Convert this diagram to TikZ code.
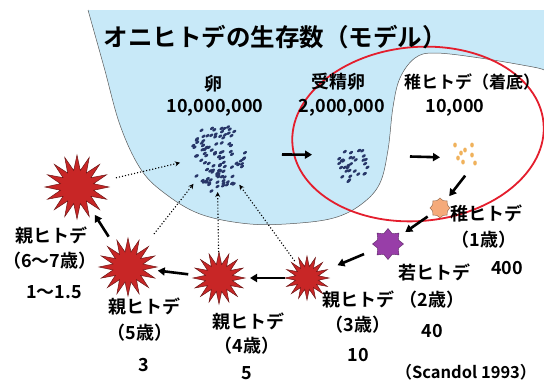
\documentclass[tikz,border=0pt]{standalone}
\usepackage{fontspec}
\setmainfont{Noto Sans CJK JP}[BoldFont={Noto Sans CJK JP Bold}]
\usetikzlibrary{positioning,shapes.geometric,arrows.meta}

\definecolor{sea}{RGB}{200,233,248}
\definecolor{ring}{RGB}{228,30,45}
\definecolor{crown}{RGB}{200,38,38}
\definecolor{young}{RGB}{152,62,168}
\definecolor{baby}{RGB}{245,170,122}
\definecolor{spawn}{RGB}{40,55,105}
\definecolor{larvae}{RGB}{240,178,92}

\tikzset{
	txt/.style={font=\bfseries\fontsize{18}{20}\selectfont, inner sep=0pt},
	adult/.style={star, star points=16, star point ratio=1.9, fill=crown, draw=crown!55!black, line width=0.5pt, inner sep=0pt},
	egg/.style={ellipse, fill=spawn, minimum width=4.6pt, minimum height=2.7pt, inner sep=0pt, rotate=35},
	go/.style={-{Triangle[length=7pt,width=8pt]}, line width=2.6pt},
	release/.style={-{Stealth[length=5pt,width=5pt]}, dotted, line width=1.1pt, shorten >=38pt},
}

\begin{document}
\begin{tikzpicture}[x=1pt,y=-1pt]
			\useasboundingbox (0,0) rectangle (544,383);
			\fill[white] (0,0) rectangle (544,383);

			\fill[sea] (544,70) -- (544,10) -- (88,10) -- plot[smooth, tension=0.6] coordinates {(88,10) (104,67) (120,125) (140,168) (163,192) (200,214) (250,224) (300,223) (337,217) (363,203) (380,183) (388,150) (393,107) (400,78) (415,58) (435,53) (480,58) (533,67) (544,70)} -- cycle;
			\draw[gray!70!black, line width=0.5pt] plot[smooth, tension=0.6] coordinates {(88,10) (104,67) (120,125) (140,168) (163,192) (200,214) (250,224) (300,223) (337,217) (363,203) (380,183) (388,150) (393,107) (400,78) (415,58) (435,53) (480,58) (533,67) (544,70)};

			\draw[ring, line width=1.8pt, rotate around={5:(418,134)}] (418,134) ellipse [x radius=126, y radius=87];

			\node[font=\bfseries\fontsize{24.5}{26}\selectfont, inner sep=0pt] (1) at (275,37) {オニヒトデの生存数（モデル）};

			\node[txt] (2) at (213,84) {卵};
			\node[txt] (3) at (215,108) {10,000,000};
			\node[txt] (4) at (338,82) {受精卵};
			\node[txt] (5) at (342,108) {2,000,000};
			\node[txt, font=\bfseries\fontsize{17}{19}\selectfont] (6) at (472,82) {稚ヒトデ（着底）};
			\node[txt] (7) at (455,108) {10,000};
			\node[txt] (8) at (486,213) {稚ヒトデ};
			\node[txt] (9) at (484,240) {（1歳）};
			\node[txt] (10) at (507,268) {400};
			\node[txt] (11) at (434,272) {若ヒトデ};
			\node[txt] (12) at (432,300) {（2歳）};
			\node[txt] (13) at (432,331) {40};
			\node[txt] (14) at (358,300) {親ヒトデ};
			\node[txt] (15) at (358,325) {（3歳）};
			\node[txt] (16) at (358,355) {10};
			\node[txt] (17) at (248,322) {親ヒトデ};
			\node[txt] (18) at (247,346) {（4歳）};
			\node[txt] (19) at (247,373) {5};
			\node[txt] (20) at (144,307) {親ヒトデ};
			\node[txt] (21) at (140,333) {（5歳）};
			\node[txt] (22) at (144,365) {3};
			\node[txt] (23) at (52,236) {親ヒトデ};
			\node[txt] (24) at (50,261) {（6～7歳）};
			\node[txt] (25) at (54,292) {1～1.5};
			\node[font=\bfseries\fontsize{16.5}{18}\selectfont, inner sep=0pt] (26) at (466,372) {（Scandol 1993）};

			\coordinate (27) at (217,154);
			\coordinate (28) at (354,155);
			\coordinate (29) at (466,158);

			\pgfmathsetseed{11}
			\foreach \i in {1,...,100}{
				\pgfmathsetmacro{\a}{360*rnd}
				\pgfmathsetmacro{\d}{sqrt(rnd)}
				\node[egg] (e\i) at ({217+29*\d*cos(\a)},{158+34*\d*sin(\a)}) {};
			}
			\foreach \i in {1,...,32}{
				\pgfmathsetmacro{\a}{360*rnd}
				\pgfmathsetmacro{\d}{sqrt(rnd)}
				\node[egg] (f\i) at ({354+17*\d*cos(\a)},{166+18*\d*sin(\a)}) {};
			}
			\foreach \x/\y [count=\i] in {455/145, 472/145, 465/150, 461/153, 472/155, 463/162, 475/163, 458/158}{
				\node[ellipse, fill=larvae, minimum width=3.6pt, minimum height=5pt, inner sep=0pt] (l\i) at (\x,\y) {};
			}

			\node[star, star points=8, star point ratio=1.25, minimum size=20pt, fill=baby, draw=baby!60!black, line width=0.4pt, inner sep=0pt] (32) at (440,208) {};
			\node[star, star points=8, star point ratio=1.4, minimum size=31pt, fill=young, draw=young!60!black, line width=0.4pt, inner sep=0pt] (33) at (388,244) {};
			\node[adult, minimum size=44pt] (34) at (307,278) {};
			\node[adult, minimum size=52pt] (35) at (219,278) {};
			\node[adult, minimum size=58pt] (36) at (128,267) {};
			\node[adult, minimum size=64pt] (37) at (77,187) {};

			\draw[go, shorten <=65pt, shorten >=42pt] (27) -- (28);
			\draw[go, shorten <=56pt, shorten >=26pt] (28) -- (29);
			\draw[go, shorten <=16pt, shorten >=15pt] (l7.center) -- (32.center);
			\draw[go, shorten <=15pt, shorten >=21pt] (32.center) -- (33.center);
			\draw[go, shorten <=26pt, shorten >=33pt] (33.center) -- (34.center);
			\draw[go, shorten <=22pt, shorten >=31pt] (34.center) -- (35.center);
			\draw[go, shorten <=31pt, shorten >=30pt] (35.center) -- (36.center);
			\draw[go, shorten <=36pt, shorten >=33pt] (36.center) -- (37.center);

			\draw[release, shorten <=40pt] (37.center) -- (27);
			\draw[release, shorten <=42pt] (36.center) -- (27);
			\draw[release, shorten <=26pt] (35.center) -- (27);
			\draw[release, shorten <=21pt] (34.center) -- (27);
		\end{tikzpicture}
\end{document}
